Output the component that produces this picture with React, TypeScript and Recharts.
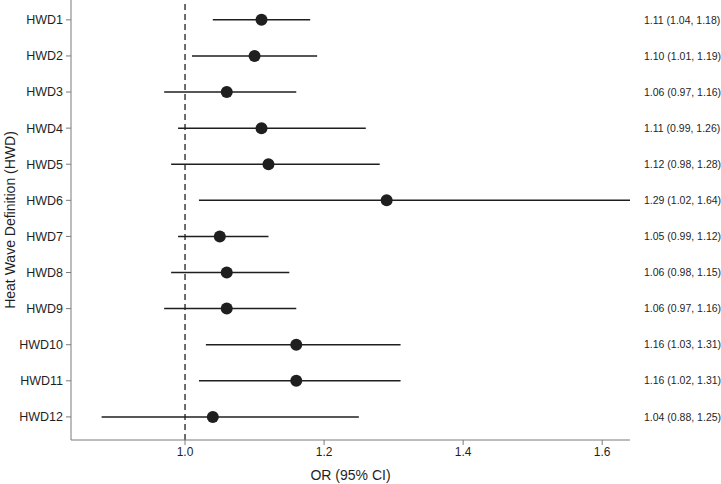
import {
  ScatterChart,
  Scatter,
  XAxis,
  YAxis,
  ErrorBar,
  ReferenceLine,
} from 'recharts';

const definitions = ['HWD1', 'HWD2', 'HWD3', 'HWD4', 'HWD5', 'HWD6', 'HWD7', 'HWD8', 'HWD9', 'HWD10', 'HWD11', 'HWD12'];
const oddsRatios = [1.11, 1.10, 1.06, 1.11, 1.12, 1.29, 1.05, 1.06, 1.06, 1.16, 1.16, 1.04];
const lowerCI = [1.04, 1.01, 0.97, 0.99, 0.98, 1.02, 0.99, 0.98, 0.97, 1.03, 1.02, 0.88];
const upperCI = [1.18, 1.19, 1.16, 1.26, 1.28, 1.64, 1.12, 1.15, 1.16, 1.31, 1.31, 1.25];
const xTicks = [1.0, 1.2, 1.4, 1.6];

const rows = definitions.map((name, i) => ({
  name,
  pos: i + 1,
  or: oddsRatios[i],
  err: [oddsRatios[i] - lowerCI[i], upperCI[i] - oddsRatios[i]],
  text: `${oddsRatios[i].toFixed(2)} (${lowerCI[i].toFixed(2)}, ${upperCI[i].toFixed(2)})`,
}));

const rowTicks = rows.map((r) => r.pos);
const INK = '#1f1f1f';
const AXIS = '#7a7a7a';
const FONT = '"Liberation Sans", Arial, sans-serif';

function Dot(props: any) {
  const { cx, cy } = props;
  if (cx == null || cy == null) return null;
  return <circle cx={cx} cy={cy} r={6} fill={INK} />;
}

// plain text so the estimate labels don't wrap
function EstimateTick(props: any) {
  const { x, y, payload } = props;
  const row = rows[payload.value - 1];
  if (!row) return null;
  return (
    <text x={x + 12} y={y} dy="0.35em" fill={INK} fontSize={10.5} fontFamily={FONT} textAnchor="start">
      {row.text}
    </text>
  );
}

export default function App() {
  return (
    <div style={{ position: 'absolute', left: 0, top: 0, width: 721, height: 484, background: '#fff', fontFamily: FONT }}>
      <ScatterChart width={721} height={484} margin={{ top: 0, right: 0, bottom: 0, left: 0 }}>
        <XAxis
          type="number"
          dataKey="or"
          domain={[0.836, 1.64]}
          allowDataOverflow
          ticks={xTicks}
          tickFormatter={(v: number) => v.toFixed(1)}
          height={44}
          stroke={AXIS}
          tickSize={5}
          tick={{ fill: INK, fontSize: 12, fontFamily: FONT }}
          label={{ value: 'OR (95% CI)', position: 'insideBottom', offset: 4, fill: INK, fontSize: 14, fontFamily: FONT }}
        />
        <YAxis
          yAxisId="left"
          type="number"
          dataKey="pos"
          domain={[0.45, 12.64]}
          reversed
          ticks={rowTicks}
          interval={0}
          tickFormatter={(v: number) => definitions[v - 1] ?? ''}
          width={71}
          stroke={AXIS}
          tickSize={5}
          tickMargin={3}
          tick={{ fill: INK, fontSize: 12.5, fontFamily: FONT }}
          label={{ value: 'Heat Wave Definition (HWD)', angle: -90, position: 'insideLeft', offset: 10, style: { textAnchor: 'middle' }, fill: INK, fontSize: 14, fontFamily: FONT }}
        />
        <YAxis
          yAxisId="right"
          orientation="right"
          type="number"
          dataKey="pos"
          domain={[0.45, 12.64]}
          reversed
          ticks={rowTicks}
          interval={0}
          width={91}
          axisLine={false}
          tickLine={false}
          tickSize={0}
          tick={<EstimateTick />}
        />
        <ReferenceLine yAxisId="left" x={1} stroke={INK} strokeWidth={1.3} strokeDasharray="6 4" />
        <Scatter yAxisId="left" data={rows} shape={<Dot />} isAnimationActive={false}>
          <ErrorBar dataKey="err" direction="x" width={0} stroke={INK} strokeWidth={1.5} isAnimationActive={false} />
        </Scatter>
        <Scatter yAxisId="right" data={rows} shape={() => null} isAnimationActive={false} />
      </ScatterChart>
    </div>
  );
}
